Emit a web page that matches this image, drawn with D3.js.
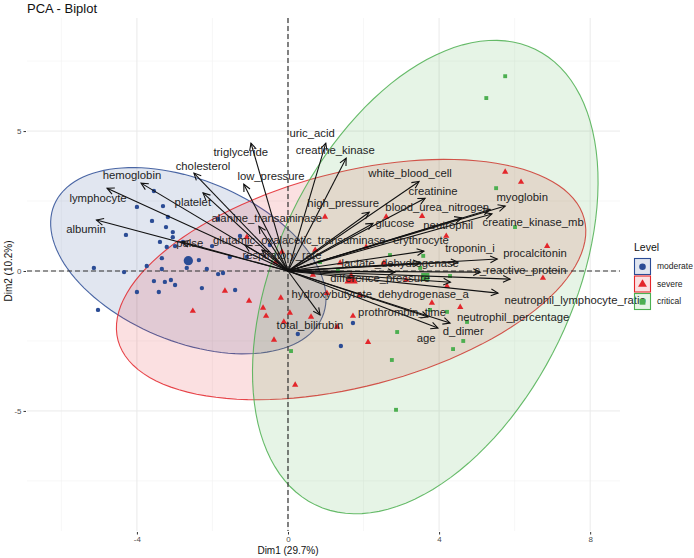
<!DOCTYPE html>
<html lang="en">
<head>
<meta charset="UTF-8" />
<title>PCA - Biplot</title>
<script src="https://d3js.org/d3.v7.min.js"></script>
<style>
  body { margin: 0; background: #fff; }
  text { font-family: "Liberation Sans", Arial, Helvetica, sans-serif; }
</style>
</head>
<body>
<script>
// ---- data ----
var levels = ["moderate", "severe", "critical"];
var colors = ["#2B4C95", "#E3262B", "#4CAF50"];

var moderateX = [-3.55,-4.0,-3.31,-4.29,-3.60,-3.18,-3.23,-3.05,-3.05,-3.39,-3.21,-2.99,-2.78,-3.34,-2.36,-3.74,-5.14,-4.34,-2.68,-2.15,-1.85,-1.72,-3.34,-3.55,-3.26,-3.10,-2.99,-4.0,-3.42,-2.28,-1.40,-5.03,-1.54,-1.09,-1.85,-0.48,1.72,0.26,1.40,-2.01,-1.27];
var moderateY = [2.86,2.29,2.32,1.29,1.79,1.93,1.57,1.39,1.21,1.04,0.86,0.89,1.04,0.46,0.39,0.18,0.11,-0.04,0.11,0.07,-0.11,-0.07,0.07,-0.36,-0.39,-0.32,-0.5,-0.75,-0.75,-0.61,-0.68,-1.39,0.5,0.5,1.86,0.93,-1.86,-2.25,-2.68,0.89,1.25];

var severeX = [5.75,6.17,0.98,2.60,3.55,4.19,6.86,1.38,2.54,0.66,6.75,4.21,1.03,2.07,-1.09,-0.32,-0.19,0.05,0.61,-0.11,1.30,1.91,2.12,3.81,3.13,-0.66,-0.58,-0.37,0.19,4.56,-1.67,-1.03,-2.52,-0.16,0.72,1.72];
var severeY = [3.54,3.18,1.93,1.93,1.96,1.25,0.89,0.29,0.29,-0.14,-0.25,-0.54,-0.79,0.86,1.21,0.32,-0.96,-1.5,-1.64,-1.82,-2.0,-0.86,-2.54,-1.14,-0.32,-1.32,-1.61,-2.46,-4.07,-1.29,-0.71,-1.07,-1.43,0.68,0.75,-1.61];

var criticalX = [5.75,5.25,5.51,6.01,3.58,4.29,0.85,2.70,3.50,1.32,3.76,4.74,4.21,2.89,2.75,0.08,4.64,4.37,2.86];
var criticalY = [6.96,6.18,2.96,1.57,0.54,-0.18,0.32,0.57,0.11,0.0,-1.39,-1.82,-1.46,-2.18,-3.18,-2.86,-2.5,-2.79,-4.96];

// 95% ellipses: two semi-axis vectors per group (data units), centred on the group mean
var ellipseA = [[3.55, -2.0], [6.17, 2.18], [2.91, 8.14]];
var ellipseB = [[-0.83, -2.66], [0.74, -3.7], [3.53, -2.3]];

var varNames = ["albumin","lymphocyte","hemoglobin","cholesterol","platelet","pulse","triglyceride","low_pressure","uric_acid","creatine_kinase","alanine_transaminase","glutamic_oxalacetic_transaminase","respiratory_rate","high_pressure","white_blood_cell","creatinine","blood_urea_nitrogen","glucose","neutrophil","myoglobin","creatine_kinase_mb","erythrocyte","troponin_i","lactate_dehydrogenase","procalcitonin","c_reactive_protein","difference_pressure","hydroxybutyrate_dehydrogenase_a","neutrophil_lymphocyte_ratio","neutrophil_percentage","prothrombin_time","d_dimer","age","total_bilirubin"];
var varX = [-5.07,-4.79,-3.89,-2.49,-2.25,-2.81,-0.98,-1.17,1.0,1.54,-0.77,-1.14,-0.69,2.15,3.47,3.63,5.35,2.25,4.6,5.75,5.4,3.6,4.5,3.5,5.54,5.09,2.83,4.3,5.88,5.56,3.71,4.29,3.97,0.85];
var varY = [1.82,2.96,3.14,3.5,2.79,1.04,4.57,3.1,4.57,4.03,1.6,0.93,0.75,2.1,3.2,2.6,2.2,1.7,1.9,2.32,2.04,0.71,0.32,0.29,0.43,-0.04,-0.04,-0.4,-0.29,-0.79,-1.64,-1.86,-2.04,-1.57];
var labelX = [-5.35,-5.03,-4.13,-2.25,-2.52,-2.6,-1.25,-0.45,0.64,1.25,-0.56,0.3,-0.16,1.46,3.23,3.84,3.95,2.83,4.24,6.2,6.49,3.52,4.82,2.97,6.54,6.15,2.44,2.44,7.6,5.96,3.02,4.64,3.66,0.58];
var labelY = [1.5,2.61,3.43,3.75,2.46,1.0,4.25,3.39,4.93,4.32,1.89,1.11,0.57,2.43,3.5,2.86,2.29,1.71,1.64,2.64,1.75,1.11,0.82,0.29,0.64,0.04,-0.25,-0.82,-1.04,-1.64,-1.46,-2.14,-2.39,-1.93];

var xTicks = [-4, 0, 4, 8], xMinor = [-6, -2, 2, 6];
var yTicks = [-5, 0, 5], yMinor = [-7.5, -2.5, 2.5, 7.5];

// ---- layout ----
var W = 694, H = 558;
var panel = { left: 27, right: 620, top: 18, bottom: 531 };

var x = d3.scaleLinear().domain([-6.91, 8.79]).range([panel.left, panel.right]);
var y = d3.scaleLinear().domain([-9.29, 9.04]).range([panel.bottom, panel.top]);

var svg = d3.select("body").append("svg")
  .attr("width", W).attr("height", H);

// grid
var grid = svg.append("g");
grid.selectAll(".vmin").data(xMinor).enter().append("line")
  .attr("x1", d => x(d)).attr("x2", d => x(d))
  .attr("y1", panel.top).attr("y2", panel.bottom)
  .attr("stroke", "#F2F2F2").attr("stroke-width", 0.6);
grid.selectAll(".hmin").data(yMinor).enter().append("line")
  .attr("y1", d => y(d)).attr("y2", d => y(d))
  .attr("x1", panel.left).attr("x2", panel.right)
  .attr("stroke", "#F2F2F2").attr("stroke-width", 0.6);
grid.selectAll(".vmaj").data(xTicks).enter().append("line")
  .attr("x1", d => x(d)).attr("x2", d => x(d))
  .attr("y1", panel.top).attr("y2", panel.bottom)
  .attr("stroke", "#EAEAEA").attr("stroke-width", 1);
grid.selectAll(".hmaj").data(yTicks).enter().append("line")
  .attr("y1", d => y(d)).attr("y2", d => y(d))
  .attr("x1", panel.left).attr("x2", panel.right)
  .attr("stroke", "#EAEAEA").attr("stroke-width", 1);

// groups
var groups = [
  { xs: moderateX, ys: moderateY, sym: d3.symbolCircle, size: 15 },
  { xs: severeX, ys: severeY, sym: d3.symbolTriangle, size: 17 },
  { xs: criticalX, ys: criticalY, sym: d3.symbolSquare, size: 15 }
];
groups.forEach(function (g, i) {
  g.cx = d3.mean(g.xs);
  g.cy = d3.mean(g.ys);
  g.color = colors[i];
  g.A = ellipseA[i];
  g.B = ellipseB[i];
});

// ellipses
var line = d3.line().x(d => x(d[0])).y(d => y(d[1])).curve(d3.curveLinearClosed);
var ts = d3.range(0, 2 * Math.PI, Math.PI / 60);
groups.forEach(function (g) {
  var pts = ts.map(t => [
    g.cx + Math.cos(t) * g.A[0] + Math.sin(t) * g.B[0],
    g.cy + Math.cos(t) * g.A[1] + Math.sin(t) * g.B[1]
  ]);
  svg.append("path").attr("d", line(pts))
    .attr("fill", g.color).attr("fill-opacity", 0.14)
    .attr("stroke", g.color).attr("stroke-opacity", 0.85).attr("stroke-width", 1.1);
});

// reference lines
svg.append("line")
  .attr("x1", x(0)).attr("x2", x(0)).attr("y1", panel.top).attr("y2", panel.bottom)
  .attr("stroke", "#333").attr("stroke-width", 1.2).attr("stroke-dasharray", "5,3");
svg.append("line")
  .attr("y1", y(0)).attr("y2", y(0)).attr("x1", panel.left).attr("x2", panel.right)
  .attr("stroke", "#333").attr("stroke-width", 1.2).attr("stroke-dasharray", "5,3");

// points + group means
groups.forEach(function (g) {
  var sym = d3.symbol().type(g.sym).size(g.size);
  svg.append("g").selectAll("path").data(g.xs).enter().append("path")
    .attr("d", sym)
    .attr("transform", (d, j) => "translate(" + x(d) + "," + y(g.ys[j]) + ")")
    .attr("fill", g.color);
  svg.append("path")
    .attr("d", d3.symbol().type(g.sym).size(g.size * 4.5))
    .attr("transform", "translate(" + x(g.cx) + "," + y(g.cy) + ")")
    .attr("fill", g.color);
});

// arrows
svg.append("defs").append("marker")
  .attr("id", "head").attr("markerUnits", "userSpaceOnUse")
  .attr("viewBox", "-8 -5 10 10").attr("refX", 0).attr("refY", 0)
  .attr("markerWidth", 10).attr("markerHeight", 10).attr("orient", "auto")
  .append("path").attr("d", "M-7,-3.4L0,0L-7,3.4")
  .attr("fill", "none").attr("stroke", "#111").attr("stroke-width", 1.1);

svg.append("g").selectAll("line").data(varNames).enter().append("line")
  .attr("x1", x(0)).attr("y1", y(0))
  .attr("x2", (d, i) => x(varX[i])).attr("y2", (d, i) => y(varY[i]))
  .attr("stroke", "#111").attr("stroke-width", 1.1)
  .attr("marker-end", "url(#head)");

svg.append("g").selectAll("text").data(varNames).enter().append("text")
  .attr("x", (d, i) => x(labelX[i])).attr("y", (d, i) => y(labelY[i]))
  .attr("dy", "0.35em").attr("text-anchor", "middle")
  .attr("font-size", 11.3).attr("fill", "#1E1E1E")
  .text(d => d);

// axes
var xAxis = svg.append("g")
  .attr("transform", "translate(0," + (panel.bottom + 1) + ")")
  .call(d3.axisBottom(x).tickValues(xTicks).tickSize(2.5).tickPadding(1.5).tickFormat(d => String(d)));
var yAxis = svg.append("g")
  .attr("transform", "translate(" + (panel.left - 1) + ",0)")
  .call(d3.axisLeft(y).tickValues(yTicks).tickSize(2.5).tickPadding(2).tickFormat(d => String(d)));
[xAxis, yAxis].forEach(function (a) {
  a.select(".domain").remove();
  a.selectAll(".tick line").attr("stroke", "#333");
  a.selectAll(".tick text").attr("fill", "#4D4D4D").attr("font-size", 8)
    .attr("font-family", "Liberation Sans, Arial, sans-serif");
});

// titles
svg.append("text").attr("x", panel.left).attr("y", 13)
  .attr("font-size", 13).attr("fill", "#111").text("PCA - Biplot");
svg.append("text").attr("x", x(0)).attr("y", 554)
  .attr("text-anchor", "middle").attr("font-size", 10).attr("fill", "#111")
  .text("Dim1 (29.7%)");
svg.append("text")
  .attr("transform", "translate(12," + y(0) + ") rotate(-90)")
  .attr("text-anchor", "middle").attr("font-size", 10).attr("fill", "#111")
  .text("Dim2 (10.2%)");

// legend
var leg = svg.append("g").attr("transform", "translate(634,240)");
leg.append("text").attr("x", 0).attr("y", 11).attr("font-size", 10.5).attr("fill", "#111").text("Level");
groups.forEach(function (g, i) {
  var row = leg.append("g").attr("transform", "translate(0," + (18 + i * 17.5) + ")");
  row.append("rect").attr("x", 0.5).attr("y", 0.5).attr("width", 16).attr("height", 16)
    .attr("fill", g.color).attr("fill-opacity", 0.14)
    .attr("stroke", g.color).attr("stroke-width", 1.1);
  row.append("path").attr("d", d3.symbol().type(g.sym).size(34))
    .attr("transform", "translate(8.5,8.8)").attr("fill", g.color);
  row.append("text").attr("x", 23).attr("y", 8.5).attr("dy", "0.35em")
    .attr("font-size", 8.5).attr("fill", "#222").text(levels[i]);
});
</script>
</body>
</html>
